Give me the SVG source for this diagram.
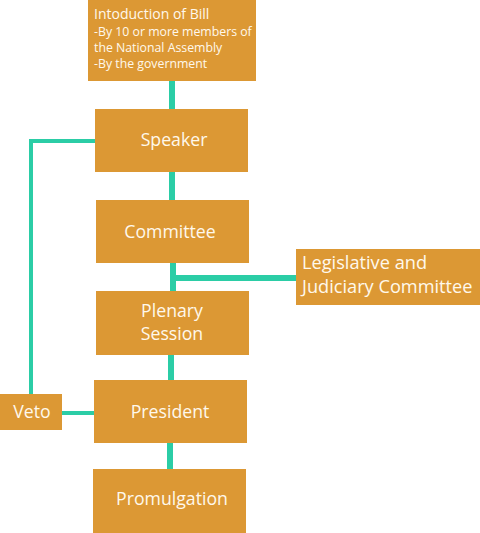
<svg xmlns="http://www.w3.org/2000/svg" width="480" height="533" viewBox="0 0 480 533">
<style>
.box{fill:#DC9834}
.t{fill:#FFF8EC;font-family:"Open Sans","Noto Sans",sans-serif;font-size:17.7px}
.c{text-anchor:middle}
.s{font-size:12.3px}
.ln{stroke:#2BCDA6;fill:none}
</style>
<rect width="480" height="533" fill="#ffffff"/>
<g id="connectors">
<path class="ln" stroke-width="6" d="M172 81V109M172 172V200M173 263V291M176 278H296M171 355V380M170 443V469"/>
<path class="ln" stroke-width="4" d="M95 141H31V394M62 413H94"/>
</g>
<g id="intro">
<rect class="box" x="88" y="0" width="168" height="81"/>
<text class="t" x="94" y="19" style="font-size:14px">Intoduction of Bill</text>
<text class="t s" x="94" y="36">-By 10 or more members of</text>
<text class="t s" x="94" y="52">the National Assembly</text>
<text class="t s" x="94" y="68">-By the government</text>
</g>
<g id="speaker">
<rect class="box" x="95" y="109" width="153" height="63"/>
<text class="t c" x="174" y="146">Speaker</text>
</g>
<g id="committee">
<rect class="box" x="96" y="200" width="153" height="63"/>
<text class="t c" x="170" y="238">Committee</text>
</g>
<g id="legislative">
<rect class="box" x="296" y="249" width="184" height="56"/>
<text class="t" x="302" y="269" style="font-size:18.2px">Legislative and</text>
<text class="t" x="302" y="293" style="font-size:18.2px">Judiciary Committee</text>
</g>
<g id="plenary">
<rect class="box" x="96" y="291" width="153" height="64"/>
<text class="t c" x="172" y="317">Plenary</text>
<text class="t c" x="172" y="340">Session</text>
</g>
<g id="president">
<rect class="box" x="94" y="380" width="153" height="63"/>
<text class="t c" x="170" y="418">President</text>
</g>
<g id="veto">
<rect class="box" x="0" y="394" width="62" height="36"/>
<text class="t c" x="32" y="418">Veto</text>
</g>
<g id="promulgation">
<rect class="box" x="93" y="469" width="153" height="64"/>
<text class="t c" x="172" y="505">Promulgation</text>
</g>
</svg>
